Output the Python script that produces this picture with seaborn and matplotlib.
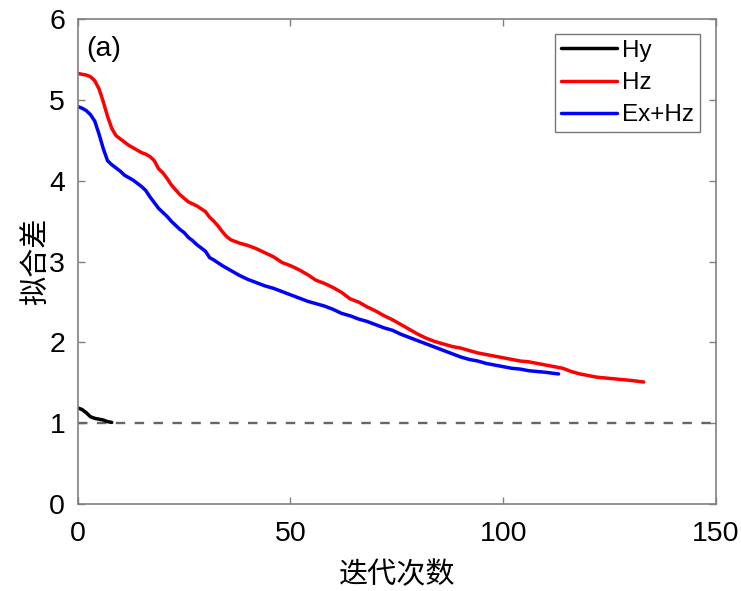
import numpy as np
import pandas as pd
import matplotlib
matplotlib.use("Agg")
import matplotlib.pyplot as plt
import seaborn as sns

# Misfit per iteration for each data combination
hy_iter = [0, 1, 2, 3, 4, 5, 6, 7, 8]
hy_misfit = [1.19, 1.17, 1.13, 1.08, 1.06, 1.05, 1.04, 1.02, 1.01]

hz_iter = [0, 1, 2, 3, 4, 5, 6, 7, 8, 9, 10, 11, 12, 13, 14, 15, 16, 17, 18, 19,
           20, 21, 22, 24, 26, 28, 30, 31, 32, 33, 34, 35, 36, 38, 40, 42, 44, 46,
           48, 50, 52, 54, 56, 58, 60, 62, 64, 66, 68, 70, 72, 74, 76, 78, 80, 82,
           84, 86, 88, 90, 92, 94, 96, 98, 100, 102, 104, 106, 108, 110, 112, 114,
           116, 118, 120, 122, 124, 126, 128, 130, 133]
hz_misfit = [5.33, 5.32, 5.31, 5.29, 5.24, 5.14, 4.98, 4.80, 4.65, 4.56, 4.52, 4.48,
             4.44, 4.41, 4.38, 4.35, 4.33, 4.30, 4.25, 4.15, 4.10, 4.03, 3.95, 3.83,
             3.74, 3.69, 3.62, 3.55, 3.50, 3.44, 3.37, 3.31, 3.27, 3.23, 3.20, 3.16,
             3.11, 3.06, 2.99, 2.95, 2.90, 2.84, 2.77, 2.73, 2.68, 2.62, 2.54, 2.50,
             2.44, 2.39, 2.33, 2.28, 2.22, 2.16, 2.10, 2.05, 2.01, 1.98, 1.95, 1.93,
             1.90, 1.87, 1.85, 1.83, 1.81, 1.79, 1.77, 1.76, 1.74, 1.72, 1.70, 1.68,
             1.64, 1.61, 1.59, 1.57, 1.56, 1.55, 1.54, 1.53, 1.51]

exhz_iter = [0, 1, 2, 3, 4, 5, 6, 7, 8, 9, 10, 11, 12, 13, 14, 15, 16, 17, 18, 19,
             20, 21, 22, 23, 24, 25, 26, 27, 28, 29, 30, 31, 32, 34, 36, 38, 40, 42,
             44, 46, 48, 50, 52, 54, 56, 58, 60, 62, 64, 66, 68, 70, 72, 74, 76, 78,
             80, 82, 84, 86, 88, 90, 92, 94, 96, 98, 100, 102, 104, 106, 108, 110,
             113]
exhz_misfit = [4.92, 4.90, 4.87, 4.82, 4.74, 4.58, 4.40, 4.25, 4.20, 4.16, 4.12,
               4.07, 4.04, 4.01, 3.97, 3.93, 3.88, 3.80, 3.73, 3.66, 3.61, 3.56,
               3.50, 3.45, 3.40, 3.36, 3.30, 3.26, 3.21, 3.17, 3.13, 3.05, 3.02,
               2.95, 2.89, 2.83, 2.78, 2.74, 2.70, 2.67, 2.63, 2.59, 2.55, 2.51,
               2.48, 2.45, 2.41, 2.36, 2.33, 2.29, 2.26, 2.22, 2.18, 2.15, 2.10,
               2.06, 2.02, 1.98, 1.94, 1.90, 1.86, 1.82, 1.79, 1.77, 1.74, 1.72,
               1.70, 1.68, 1.67, 1.65, 1.64, 1.63, 1.61]

series_names = ["Hy", "Hz", "Ex+Hz"]
series_colors = ["#000000", "#ff0000", "#0000ff"]
target_misfit = 1.0

x_ticks = [0, 50, 100, 150]
y_ticks = [0, 1, 2, 3, 4, 5, 6]

df = pd.concat([
    pd.DataFrame({"iter": hy_iter, "misfit": hy_misfit, "data": "Hy"}),
    pd.DataFrame({"iter": hz_iter, "misfit": hz_misfit, "data": "Hz"}),
    pd.DataFrame({"iter": exhz_iter, "misfit": exhz_misfit, "data": "Ex+Hz"}),
], ignore_index=True)

sns.set_style("white")
plt.rcParams["font.family"] = ["Liberation Sans", "Noto Sans CJK SC"]
plt.rcParams["text.color"] = "black"
plt.rcParams["axes.labelcolor"] = "black"
plt.rcParams["xtick.labelcolor"] = "black"
plt.rcParams["ytick.labelcolor"] = "black"

fig = plt.figure(figsize=(7.41, 5.91), dpi=100)
ax = fig.add_axes([0.1049, 0.1472, 0.8614, 0.8201])

sns.lineplot(data=df, x="iter", y="misfit", hue="data", hue_order=series_names,
             palette=dict(zip(series_names, series_colors)), linewidth=2.5,
             sort=False, estimator=None, ax=ax)

ax.axhline(target_misfit, color="#666666", linewidth=1.7, dashes=(4, 4), zorder=1)

ax.set_xlim(0, 150)
ax.set_ylim(0, 6)
ax.set_xticks(x_ticks)
ax.set_yticks(y_ticks)
ax.tick_params(direction="in", length=5, width=1, color="#808080",
               labelsize=20.5, top=True, right=True, bottom=True, left=True)
ax.tick_params(axis="x", pad=12)
ax.tick_params(axis="y", pad=9)
for s in ax.spines.values():
    s.set_visible(True)
    s.set_color("#808080")
    s.set_linewidth(1.2)

ax.set_xlabel("迭代次数", fontsize=21, family=["Noto Sans CJK SC"], labelpad=10)
ax.set_ylabel("拟合差", fontsize=21, family=["Noto Sans CJK SC"], labelpad=-1)

ax.text(0.013, 0.965, "(a)", transform=ax.transAxes, fontsize=20.5,
        ha="left", va="top")

leg = ax.legend(loc="upper right", bbox_to_anchor=(0.975, 0.97), fontsize=17.5,
                frameon=True, fancybox=False, handlelength=2.3, handletextpad=0.2,
                labelspacing=0.42, borderpad=0.25, borderaxespad=0.0)
leg.get_frame().set_edgecolor("#555555")
leg.get_frame().set_linewidth(1.0)
for line in leg.get_lines():
    line.set_linewidth(2.5)

fig.savefig("out.png", dpi=100)
